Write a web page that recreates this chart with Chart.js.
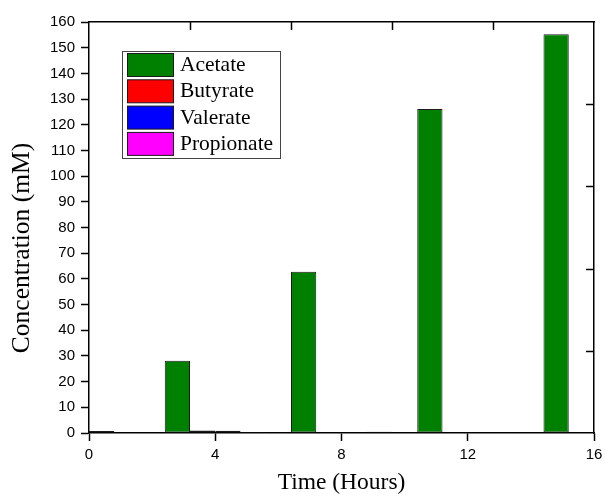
<!DOCTYPE html>
<html>
<head>
<meta charset="utf-8">
<script src="https://cdn.jsdelivr.net/npm/chart.js@4.4.1/dist/chart.umd.min.js"></script>
<style>
  html, body { margin: 0; padding: 0; background: #fff; }
  #c { display: block; }
</style>
</head>
<body>
<canvas id="c" width="605" height="500"></canvas>
<script>
// ---- data ----
const times = [0, 4, 8, 12, 16];
const seriesNames = ['Acetate', 'Butyrate', 'Valerate', 'Propionate'];
const acetate = [0, 28.1, 62.8, 126.1, 155.2];
const butyrate = [0.3, 1.0, 0.3, 0.3, 0.3];
const valerate = [0.8, 0.9, 0.0, 0.0, 0.0];
const propionate = [0.3, 0.4, 0.5, 0.3, 0.0];
const xTicks = [0, 4, 8, 12, 16];
const yTicksStep = 10;
const topMirrorTicks = [3.2, 6.4, 9.6, 12.8];
const rightMirrorTicks = [32, 64, 96, 128];

const colors = ['#008000', '#ff0000', '#0000ff', '#ff00ff'];
const seriesValues = [acetate, butyrate, valerate, propionate];

const datasets = seriesNames.map((name, i) => ({
  label: name,
  data: times.map((t, j) => ({ x: t, y: seriesValues[i][j] })),
  backgroundColor: colors[i],
  borderColor: '#1a1a1a',
  borderWidth: 1,
  borderSkipped: false,
  categoryPercentage: 0.8,
  barPercentage: 1.0,
  clip: 0,
  xAxisID: 'x',
  yAxisID: 'y'
}));

const serif = "'Liberation Serif', 'Times New Roman', serif";
const sans = "'Liberation Sans', Arial, sans-serif";

const extras = {
  id: 'extras',
  afterDraw(chart) {
    const ctx = chart.ctx;
    const area = chart.chartArea;
    const xs = chart.scales.x, ys = chart.scales.y;
    ctx.save();
    // mirror ticks (inward)
    ctx.strokeStyle = '#000';
    ctx.lineWidth = 1.5;
    rightMirrorTicks.forEach(v => {
      const py = Math.round(ys.getPixelForValue(v)) + 0.5;
      ctx.beginPath(); ctx.moveTo(area.right - 8, py); ctx.lineTo(area.right, py); ctx.stroke();
    });
    topMirrorTicks.forEach(v => {
      const px = Math.round(xs.getPixelForValue(v)) + 0.5;
      ctx.beginPath(); ctx.moveTo(px, area.top); ctx.lineTo(px, area.top + 8); ctx.stroke();
    });
    // y axis title
    ctx.fillStyle = '#000';
    ctx.font = '25.5px ' + serif;
    ctx.textAlign = 'center';
    ctx.textBaseline = 'middle';
    ctx.translate(22, 248);
    ctx.rotate(-Math.PI / 2);
    ctx.fillText('Concentration (mM)', 0, 0);
    ctx.restore();

    // legend
    ctx.save();
    const bx = 122.5, by = 51.5, bw = 158, bh = 107;
    ctx.fillStyle = '#fff';
    ctx.fillRect(bx, by, bw, bh);
    ctx.strokeStyle = '#444';
    ctx.lineWidth = 1;
    ctx.strokeRect(bx, by, bw, bh);
    ctx.font = '21.5px ' + serif;
    ctx.textAlign = 'left';
    ctx.textBaseline = 'middle';
    chart.data.datasets.forEach((ds, i) => {
      const sy = 53.5 + i * 26.3;
      ctx.fillStyle = ds.backgroundColor;
      ctx.fillRect(127.5, sy, 46, 23);
      ctx.strokeStyle = '#1a1a1a';
      ctx.strokeRect(127.5, sy, 46, 23);
      ctx.fillStyle = '#000';
      ctx.fillText(ds.label, 180, sy + 12);
    });
    ctx.restore();
  }
};

new Chart(document.getElementById('c'), {
  type: 'bar',
  data: { datasets },
  options: {
    responsive: false,
    animation: false,
    devicePixelRatio: 1,
    layout: { padding: 0 },
    plugins: { legend: { display: false }, tooltip: { enabled: false } },
    scales: {
      x: {
        type: 'linear', position: 'bottom', min: 0, max: 16, offset: false,
        afterBuildTicks: s => { s.ticks = xTicks.map(v => ({ value: v })); },
        afterFit: s => { s.height = 67; s.paddingLeft = 0; s.paddingRight = 0; },
        grid: { drawOnChartArea: false, drawTicks: true, tickLength: 8, tickWidth: 1.5, tickColor: '#000', offset: false },
        border: { display: true, color: '#000', width: 1.5 },
        ticks: { color: '#000', font: { family: sans, size: 15 }, padding: 5, maxRotation: 0 },
        title: { display: true, text: 'Time (Hours)', color: '#000', font: { family: serif, size: 23.5 }, padding: { top: 0, bottom: 3 } }
      },
      x2: {
        type: 'linear', position: 'top', min: 0, max: 16, offset: false,
        afterFit: s => { s.height = 22; s.paddingLeft = 0; s.paddingRight = 0; },
        grid: { drawOnChartArea: false, drawTicks: false },
        border: { display: true, color: '#000', width: 1.5 },
        ticks: { display: false }
      },
      y: {
        type: 'linear', position: 'left', min: 0, max: 160,
        afterFit: s => { s.width = 89; s.paddingTop = 0; s.paddingBottom = 0; },
        grid: { drawOnChartArea: false, drawTicks: true, tickLength: 8, tickWidth: 1.5, tickColor: '#000' },
        border: { display: true, color: '#000', width: 1.5 },
        ticks: { stepSize: yTicksStep, color: '#000', font: { family: sans, size: 15 }, padding: 6, autoSkip: false }
      },
      y2: {
        type: 'linear', position: 'right', min: 0, max: 160,
        afterFit: s => { s.width = 11; s.paddingTop = 0; s.paddingBottom = 0; },
        grid: { drawOnChartArea: false, drawTicks: false },
        border: { display: true, color: '#000', width: 1.5 },
        ticks: { display: false }
      }
    }
  },
  plugins: [extras]
});
</script>
</body>
</html>
